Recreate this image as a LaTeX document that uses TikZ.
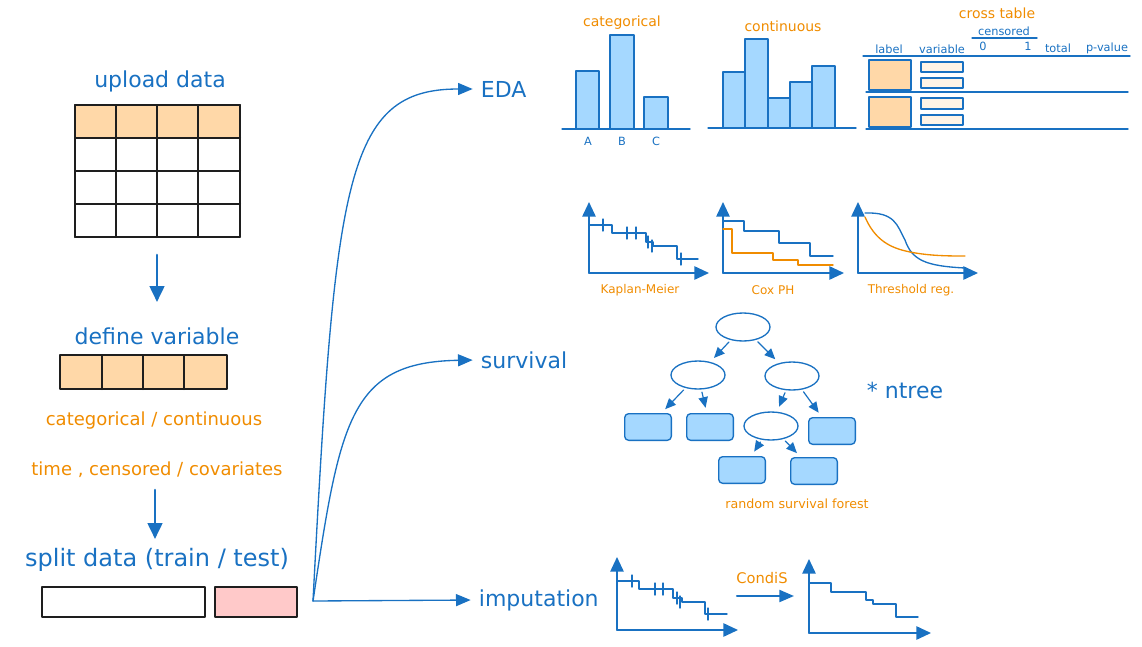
\documentclass[tikz,border=0pt]{standalone}
\usepackage{fontspec}
\setmainfont{DejaVu Sans}
\usetikzlibrary{arrows.meta, shapes.geometric, positioning}
\definecolor{exblue}{HTML}{1971C2}
\definecolor{exorange}{HTML}{F08C00}
\definecolor{barfill}{HTML}{A5D8FF}
\definecolor{hdrfill}{HTML}{FFD8A8}
\definecolor{testfill}{HTML}{FFC9C9}
\definecolor{varfill}{HTML}{FFF4E6}
\definecolor{ink}{HTML}{1E1E1E}

\begin{document}
\begin{tikzpicture}[x=0.75pt, y=-0.75pt, line join=round, line cap=round,
    title/.style={text=exblue, font=\fontsize{16.5}{20}\selectfont, inner sep=2pt},
    note/.style={text=exorange, font=\fontsize{13.5}{16}\selectfont, inner sep=1pt},
    chart/.style={text=exorange, font=\fontsize{10.5}{12}\selectfont, inner sep=1pt},
    hdr/.style={text=exblue, font=\fontsize{8.5}{10}\selectfont, inner sep=1pt},
    grid/.style={draw=ink, line width=1.5pt},
    flow/.style={draw=exblue, line width=1pt, -{Triangle[length=11pt, width=9pt]}},
    down/.style={draw=exblue, line width=2pt, -{Triangle[length=12pt, width=11pt]}},
    axis/.style={draw=exblue, line width=1.3pt, -{Triangle[length=11pt, width=10pt]}},
    curve/.style={draw=exblue, line width=1pt},
    ocurve/.style={draw=exorange, line width=1pt},
    bar/.style={draw=exblue, fill=barfill, line width=1pt},
    rule/.style={draw=exblue, line width=1pt},
    split/.style={draw=exblue, line width=1pt, ellipse, minimum width=40.5pt, minimum height=21pt, inner sep=0pt},
    leaf/.style={draw=exblue, line width=1pt, fill=barfill, rounded corners=3pt, minimum width=35pt, minimum height=20pt, inner sep=0pt},
    branch/.style={draw=exblue, line width=0.9pt, -{Triangle[length=8pt, width=7pt]}, shorten <=2pt, shorten >=4pt}]
    \useasboundingbox (0,0) rectangle (1142,646);
    \newcommand{\cens}[2]{
        \draw[curve] (#1,#2-6) -- (#1,#2+6);
    }

    % left column: data preparation
    \node[title] (upload) at (160,81) {upload data};
    \fill[hdrfill] (75,105) rectangle (240,138);
    \foreach \xx in {75,116,157,198,240}
        \draw[grid] (\xx,105) -- (\xx,237);
    \foreach \yy in {105,138,171,204,237}
        \draw[grid] (75,\yy) -- (240,\yy);
    \coordinate (tabout) at (157,255);
    \coordinate (defin) at (157,302);
    \draw[down] (tabout) -- (defin);

    \node[title] (defvar) at (157,336) {define variable};
    \draw[grid, fill=hdrfill] (60,355) rectangle (227,389);
    \foreach \xx in {102,143,184}
        \draw[grid] (\xx,355) -- (\xx,389);
    \node[note] (types) at (154,421) {categorical / continuous};
    \node[note] (roles) at (157,470) {time , censored / covariates};
    \coordinate (rolesout) at (155,490);
    \coordinate (splitin) at (155,539);
    \draw[down] (rolesout) -- (splitin);

    \node[title, font=\fontsize{18}{20}\selectfont] (splitlbl) at (157,560) {split data (train / test)};
    \draw[grid] (42,587) rectangle (205,617);
    \draw[grid, fill=testfill] (215,587) rectangle (297,617);

    % branches
    \node[title, anchor=west] (eda) at (478,89) {EDA};
    \node[title, anchor=west] (surv) at (478,360) {survival};
    \node[title, anchor=west] (imp) at (476,600) {imputation};
    \coordinate (fork) at (313,601);
    \draw[flow, shorten >=4pt] (fork) .. controls (335,180) and (345,89) .. (eda.west);
    \draw[flow, shorten >=4pt] (fork) .. controls (340,420) and (350,362) .. (surv.west);
    \draw[flow, shorten >=4pt] (fork) -- (imp.west);

    % EDA: categorical bars
    \node[chart] (cattitle) at (622,23) {categorical};
    \foreach \xa/\xb/\yt in {576/599/71, 610/634/35, 644/668/97}
        \draw[bar] (\xa,129) rectangle (\xb,\yt);
    \draw[rule] (562,129) -- (690,129);
    \foreach \lab/\xx in {A/588, B/622, C/656}
        \node[hdr] (cat\lab) at (\xx,141) {\lab};

    % EDA: continuous histogram
    \node[chart] (contitle) at (783,26) {continuous};
    \foreach \xa/\xb/\yt in {723/745/72, 745/768/39, 768/790/98, 790/812/82, 812/835/66}
        \draw[bar] (\xa,128) rectangle (\xb,\yt);
    \draw[rule] (708,128) -- (856,128);

    % EDA: cross table
    \node[chart] (crosstitle) at (997,13) {cross table};
    \node[hdr] (cens) at (1004,31) {censored};
    \draw[rule] (972,38) -- (1037,38);
    \node[hdr] (czero) at (983,46) {0};
    \node[hdr] (cone) at (1028,46) {1};
    \node[hdr] (clabel) at (889,49) {label};
    \node[hdr] (cvar) at (942,49) {variable};
    \node[hdr] (ctotal) at (1058,48) {total};
    \node[hdr] (cpval) at (1107,48) {p-value};
    \draw[rule] (863,56) -- (1130,56);
    \draw[rule] (866,92) -- (1128,92);
    \draw[rule] (866,129) -- (1128,129);
    \foreach \ya/\yb in {60/90, 97/127}
        \draw[rule, fill=hdrfill] (869,\ya) rectangle (911,\yb);
    \foreach \ya/\yb in {62/72, 78/88, 98/109, 115/125}
        \draw[rule, fill=varfill] (921,\ya) rectangle (963,\yb);

    % survival: Kaplan-Meier
    \draw[axis] (589,273) -- (589,202);
    \draw[axis] (589,273) -- (709,273);
    \draw[curve] (589,225) -| (612,233) -| (646,242) -| (653,246) -| (677,259) -- (698,259);
    \foreach \xx/\yy in {603/225, 627/233, 636/233, 648/242, 652/246, 681/259}
        {\cens{\xx}{\yy}}
    \node[chart, font=\fontsize{9}{11}\selectfont] (kmlbl) at (640,290) {Kaplan-Meier};

    % survival: Cox PH
    \draw[axis] (723,273) -- (723,202);
    \draw[axis] (723,273) -- (844,273);
    \draw[curve] (723,221) -| (744,231) -| (779,243) -| (810,256) -- (833,256);
    \draw[ocurve] (723,229) -| (732,253) -| (773,260) -| (798,265) -- (833,265);
    \node[chart, font=\fontsize{9}{11}\selectfont] (coxlbl) at (773,290) {Cox PH};

    % survival: threshold regression
    \draw[axis] (858,273) -- (858,202);
    \draw[axis] (858,273) -- (978,273);
    \draw[curve] (865,213) .. controls (895,212) and (897,225) .. (905,240)
        .. controls (912,260) and (925,266) .. (965,268);
    \draw[ocurve] (865,217) .. controls (875,240) and (890,248) .. (910,252)
        .. controls (930,256) and (950,256) .. (965,256);
    \node[chart, font=\fontsize{9}{11}\selectfont] (thrlbl) at (911,290) {Threshold reg.};

    % survival: random survival forest
    \node[split] (root) at (743,327) {};
    \node[split] (nl) at (698,375) {};
    \node[split] (nr) at (792,376) {};
    \node[leaf] (l1) at (648,427) {};
    \node[leaf] (l2) at (710,427) {};
    \node[split] (n3) at (771,426) {};
    \node[leaf] (l3) at (832,431) {};
    \node[leaf] (l4) at (742,470) {};
    \node[leaf] (l5) at (814,471) {};
    \draw[branch] (root) -- (nl);
    \draw[branch] (root) -- (nr);
    \draw[branch] (nl) -- (l1);
    \draw[branch] (nl) -- (l2);
    \draw[branch] (nr) -- (n3);
    \draw[branch] (nr) -- (l3);
    \draw[branch] (n3) -- (l4);
    \draw[branch] (n3) -- (l5);
    \node[title, anchor=west] (ntree) at (864,390) {* ntree};
    \node[chart, font=\fontsize{9.5}{11}\selectfont] (rsflbl) at (797,504) {random survival forest};

    % imputation
    \draw[axis] (617,630) -- (617,557);
    \draw[axis] (617,630) -- (738,630);
    \draw[curve] (617,581) -| (639,589) -| (673,598) -| (682,602) -| (705,614) -- (727,614);
    \foreach \xx/\yy in {632/581, 655/589, 663/589, 677/598, 680/602, 708/614}
        {\cens{\xx}{\yy}}
    \node[chart, font=\fontsize{11}{13}\selectfont] (condis) at (762,578) {CondiS};
    \coordinate (condin) at (737,596);
    \coordinate (condout) at (794,596);
    \draw[flow, line width=1.6pt] (condin) -- (condout);
    \draw[axis] (809,633) -- (809,559);
    \draw[axis] (809,633) -- (931,633);
    \draw[curve] (809,583) -| (831,592) -| (866,600) -| (873,604) -| (896,617) -- (918,617);
\end{tikzpicture}
\end{document}
